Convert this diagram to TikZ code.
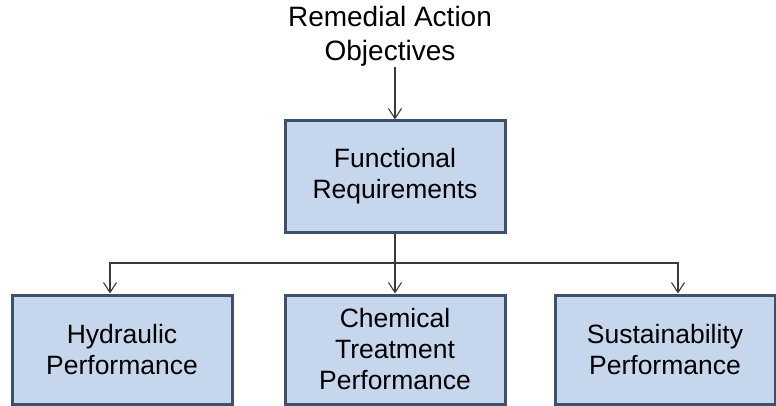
\documentclass[tikz,border=0pt]{standalone}
\usepackage{fontspec}
\setmainfont{Liberation Sans}
\usetikzlibrary{arrows.meta}
\definecolor{boxfill}{HTML}{C6D6EC}
\definecolor{boxline}{HTML}{3D516D}
\definecolor{linecol}{HTML}{3A3A3A}
\tikzset{
  txt/.style={align=center, font=\fontsize{26.5}{31}\selectfont, text=black},
  blk/.style={txt, draw=boxline, fill=boxfill, line width=3pt, minimum width=220pt, inner sep=0pt},
  arr/.style={draw=linecol, line width=1.1pt, -{Straight Barb[length=10pt,width=13pt,line width=1.1pt]}},
  ln/.style={draw=linecol, line width=1.1pt}
}
\begin{document}
\begin{tikzpicture}[x=1pt,y=-1pt]
\useasboundingbox (0,0) rectangle (776,406);
\node[txt, font=\fontsize{28}{34}\selectfont, inner sep=1pt] (rao) at (390,36) {Remedial Action\\Objectives};
\node[blk, minimum height=111pt] (func) at (395,176.5) {Functional\\Requirements};
\node[blk, minimum height=109pt] (hyd) at (122,349.5) {Hydraulic\\Performance};
\node[blk, minimum height=109pt] (chem) at (395,349.5) {Chemical\\Treatment\\Performance};
\node[blk, minimum height=109pt] (sus) at (665,349.5) {Sustainability\\Performance};
\coordinate (junc) at (395,263);
\draw[arr] (rao.south -| func.north) -- (func.north);
\draw[arr] (func.south) -- (chem.north);
\draw[arr] (junc) -| ([xshift=-12pt]hyd.north);
\draw[arr] (junc) -| ([xshift=13pt]sus.north);
\end{tikzpicture}
\end{document}
